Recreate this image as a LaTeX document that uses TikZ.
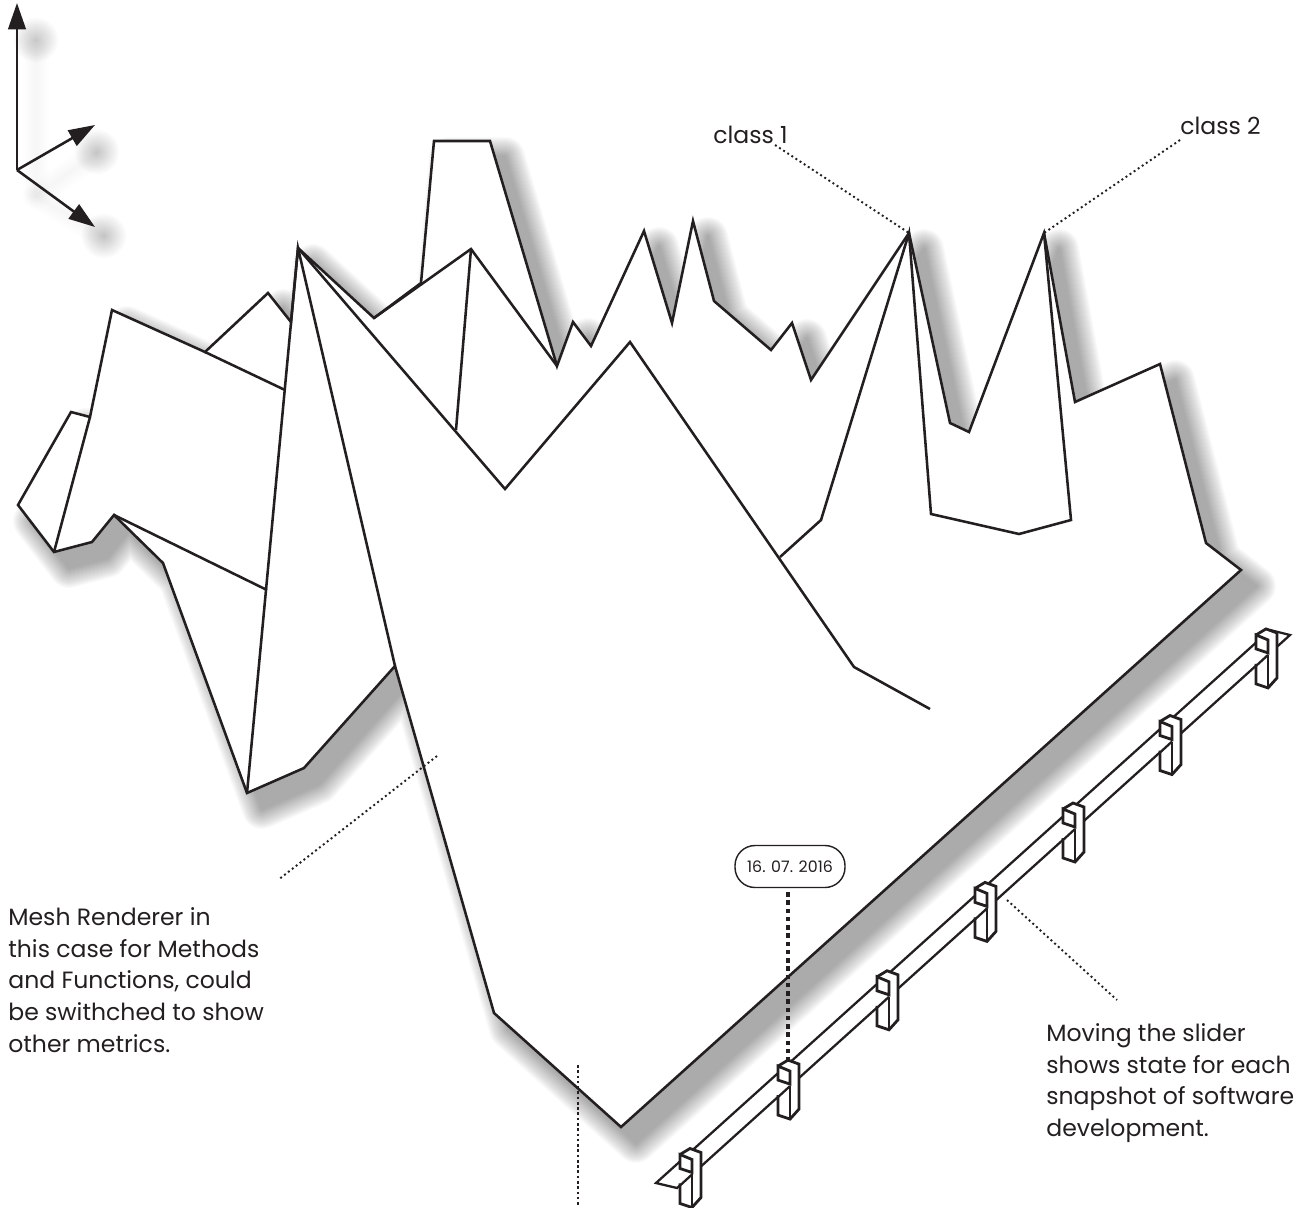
\documentclass[tikz,border=0pt]{standalone}
\usepackage{fontspec}
\setmainfont{Poppins}
\usetikzlibrary{arrows.meta}

\definecolor{ink}{HTML}{231F20}

% outline of the whole mesh, walked clockwise
\def\meshoutline{(18,505) -- (71,412) -- (90,417) -- (112,310) -- (205,352) -- (268,293) -- (291,322) -- (298,248) -- (374,318) -- (421,283) -- (434,141) -- (490,141) -- (557,366) -- (573,322) -- (591,346) -- (644,231) -- (672,323) -- (693,221) -- (714,301) -- (771,350) -- (792,323) -- (811,380) -- (909,233) -- (950,423) -- (969,432) -- (1044,233) -- (1075,402) -- (1160,364) -- (1206,543) -- (1241,570) -- (621,1127) -- (494,1013) -- (395,666) -- (304,768) -- (247,793) -- (163,563) -- (114,515) -- (92,542) -- (54,552) -- cycle}

\tikzset{
  meshline/.style={draw=ink, line width=1.45pt, line join=miter},
  axisarrow/.style={draw=ink, line width=1.45pt, -{Triangle[length=15pt,width=10pt]}},
  fineleader/.style={draw=ink, line width=1.1pt, dash pattern=on 1.1pt off 1.7pt},
  dateleader/.style={draw=ink, line width=1.9pt, dash pattern=on 2.6pt off 2.1pt},
  copytext/.style={text=ink, align=left, anchor=west, inner sep=0pt, font=\fontsize{13.4}{18.1}\selectfont},
  barline/.style={draw=ink, line width=1.3pt},
  markerline/.style={draw=ink, line width=1.6pt, line join=miter},
}

\begin{document}
\begin{tikzpicture}[x=0.02cm, y=-0.02cm]
\useasboundingbox (0,0) rectangle (1304,1207);

% Shadow of the mesh
\begin{scope}[shift={(15,16)}]
\foreach \w in {2,4,...,40} {
  \begin{scope}[transparency group, opacity=0.0184]
    \path[fill=black, draw=black, line join=round, line width=\w*0.569pt] \meshoutline;
  \end{scope}
}
\end{scope}

% Shadow of the axes
\foreach \w in {2,5,...,26} {
  \path[draw=black, opacity=0.005, line width=\w*0.569pt, line cap=round] (36,48) -- (36,190);
  \path[draw=black, opacity=0.005, line width=\w*0.569pt, line cap=round] (36,196) -- (96,154);
  \path[draw=black, opacity=0.005, line width=\w*0.569pt, line cap=round] (36,196) -- (104,236);
}
\foreach \r in {2,4,...,22} {
  \fill[black, opacity=0.018] (36,40) circle (\r);
  \fill[black, opacity=0.018] (97,152) circle (\r);
  \fill[black, opacity=0.018] (104,236) circle (\r);
}

% Mesh
\path[fill=white] \meshoutline;
\path[meshline] \meshoutline;

\draw[meshline] (90,417) -- (54,552);
\draw[meshline] (205,352) -- (285,390);
\draw[meshline] (114,515) -- (267,590);
\draw[meshline] (247,793) -- (298,248) -- (395,666);
\draw[meshline] (298,248) -- (505,489) -- (630,342) -- (854,667) -- (930,709);
\draw[meshline] (780,557) -- (821,520) -- (909,233) -- (931,514) -- (1019,534) -- (1071,520) -- (1044,233);
\draw[meshline] (374,318) -- (471,249) -- (557,366);
\draw[meshline] (471,249) -- (456,430);

% Axes
\coordinate (O) at (17,170);
\coordinate (AU) at (17,3);
\coordinate (AR) at (95,125);
\coordinate (AD) at (95,227);
\draw[axisarrow] (O) -- (AU);
\draw[axisarrow] (O) -- (AR);
\draw[axisarrow] (O) -- (AD);

% Slider bar
\coordinate (BA) at (656,1183);
\coordinate (BB) at (677,1188);
\coordinate (BC) at (1290,635);
\coordinate (BD) at (1270,630);
\draw[barline, line join=miter] (BD) -- (BC) -- (BB) -- (BA) -- cycle;

% Slider ticks
\foreach \px in {692,790,889,987,1075,1172,1268} {
  \pgfmathsetmacro{\py}{1188-0.902*(\px-677)+33}
  \begin{scope}[shift={(\px,\py)}]
    \path[fill=white] (0,0) -- (-12,-4) -- (-12,-53) -- (-2,-59) -- (9,-55) -- (9,-10) -- cycle;
    \draw[markerline] (-12,-24) -- (-12,-4) -- (0,0) -- (9,-10) -- (9,-55) -- (-2,-59) -- (-12,-53);
    \draw[markerline] (0,-33) -- (0,0);
    \draw[barline] (-12,-22) -- (0,-33);
    \path[fill=white] (-12,-53) -- (0,-48) -- (0,-35) -- (-12,-39) -- cycle;
    \draw[markerline] (-12,-53) -- (0,-48) -- (0,-35) -- (-12,-39) -- cycle;
  \end{scope}
}

% Labels
\node[copytext] (class1) at (713,135) {class 1};
\node[copytext] (class2) at (1180,126) {class 2};
\node[copytext] (meshnote) at (8,980) {Mesh Renderer in\\this case for Methods\\and Functions, could\\be swithched to show\\other metrics.};
\node[copytext] (slidernote) at (1046,1083) {Moving the slider\\shows state for each\\snapshot of software\\development.};
\node[draw=ink, line width=0.8pt, text=ink, rounded corners=20*0.569pt, minimum width=110*0.569pt, minimum height=42*0.569pt, inner sep=0pt, font=\fontsize{9}{11}\selectfont] (datebox) at (790,866.5) {16. 07. 2016};

% Leaders
\coordinate (peak1) at (909,233);
\coordinate (peak2) at (1044,233);
\coordinate (class1end) at (775,145);
\coordinate (class2end) at (1180,140);
\coordinate (meshA) at (437,756);
\coordinate (meshB) at (278,880);
\coordinate (slideA) at (1007,900);
\coordinate (slideB) at (1117,1000);
\coordinate (datestart) at (788,892);
\coordinate (dateend) at (788,1065);
\coordinate (lowA) at (578,1065);
\coordinate (lowB) at (578,1207);
\draw[fineleader] (class1end) -- (peak1);
\draw[fineleader] (class2end) -- (peak2);
\draw[fineleader] (meshA) -- (meshB);
\draw[fineleader] (slideA) -- (slideB);
\draw[dateleader] (datestart) -- (dateend);
\draw[draw=ink, line width=1.5pt, dash pattern=on 1.5pt off 1.5pt] (lowA) -- (lowB);

\end{tikzpicture}
\end{document}
